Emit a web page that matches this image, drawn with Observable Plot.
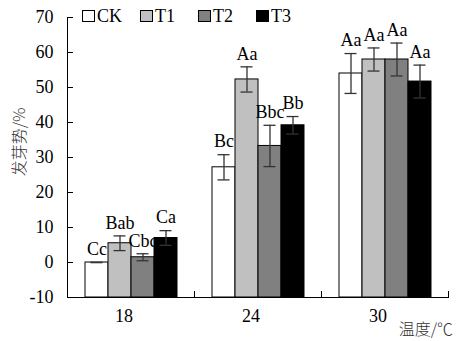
<!DOCTYPE html>
<html>
<head>
<meta charset="utf-8">
<script src="https://cdn.jsdelivr.net/npm/d3@7"></script>
<script src="https://cdn.jsdelivr.net/npm/@observablehq/plot@0.6"></script>
<style>
  body { margin: 0; background: white; }
  #wrap { position: relative; width: 461px; height: 341px; overflow: hidden; font-family: "Liberation Serif", "Times New Roman", Times, "DejaVu Serif", serif; }
  #legend { position: absolute; left: 82px; top: 6px; display: flex; font-size: 18px; line-height: 20px; }
  .item { display: flex; align-items: center; width: 58px; flex: none; }
  .sw { width: 11px; height: 10px; border: 1px solid black; margin-right: 2px; }
  #ylab { position: absolute; left: 18px; top: 142px; transform: translate(-50%, -50%) rotate(-90deg); font-size: 16px; white-space: nowrap; color: #333; font-family: "Noto Sans CJK SC", sans-serif; font-weight: 300; }
  #xlab { position: absolute; right: 8px; top: 316px; font-size: 16px; white-space: nowrap; color: #333; font-family: "Noto Sans CJK SC", sans-serif; font-weight: 300; }
  svg text { font-family: "Liberation Serif", "Times New Roman", Times, "DejaVu Serif", serif; }
</style>
</head>
<body>
<div id="wrap">
  <div id="chart"></div>
  <div id="legend"></div>
  <div id="ylab"></div>
  <div id="xlab"></div>
</div>
<script>
const temps = ["18", "24", "30"];
const series = ["CK", "T1", "T2", "T3"];
const ckMean = [0, 27.2, 54.0];
const t1Mean = [5.5, 52.3, 58.0];
const t2Mean = [1.5, 33.3, 58.0];
const t3Mean = [7.0, 39.2, 51.7];
const ckErr = [0, 3.6, 5.7];
const t1Err = [2.1, 3.6, 3.3];
const t2Err = [1.0, 5.9, 4.7];
const t3Err = [2.1, 2.5, 4.7];
const ckSig = ["Cc", "Bc", "Aa"];
const t1Sig = ["Bab", "Aa", "Aa"];
const t2Sig = ["Cbc", "Bbc", "Aa"];
const t3Sig = ["Ca", "Bb", "Aa"];
const yTicks = [-10, 0, 10, 20, 30, 40, 50, 60, 70];
const fills = ["#ffffff", "#c0c0c0", "#808080", "#000000"];
const yLabel = "发芽势/%";
const xLabel = "温度/℃";

const means = [ckMean, t1Mean, t2Mean, t3Mean];
const errs = [ckErr, t1Err, t2Err, t3Err];
const sigs = [ckSig, t1Sig, t2Sig, t3Sig];
const rows = [];
temps.forEach((t, i) => series.forEach((s, j) => {
  rows.push({temp: t, series: s, mean: means[j][i], err: errs[j][i], sig: sigs[j][i]});
}));

const serif = "'Liberation Serif', 'Times New Roman', Times, 'DejaVu Serif', serif";
const chart = Plot.plot({
  width: 461,
  height: 341,
  marginTop: 17,
  marginBottom: 44,
  marginLeft: 66,
  marginRight: 13,
  style: {fontFamily: serif, fontSize: "18px", background: "white", color: "black", overflow: "visible"},
  fx: {domain: temps, padding: 0, label: null, axis: null},
  x: {domain: series, paddingInner: 0, paddingOuter: 0.76, axis: null},
  y: {domain: [-10, 70], label: null},
  color: {domain: series, range: fills},
  marks: [
    Plot.barY(rows, {fx: "temp", x: "series", y1: -10, y2: "mean", fill: "series", stroke: "black", strokeWidth: 1}),
    Plot.ruleX(rows, {fx: "temp", x: "series", y1: d => d.mean - d.err, y2: d => d.mean + d.err, stroke: "#333", strokeWidth: 1.3}),
    Plot.tickY(rows, {fx: "temp", x: "series", y: d => d.mean - d.err, insetLeft: 5.5, insetRight: 5.5, stroke: "#333", strokeWidth: 1.3}),
    Plot.tickY(rows, {fx: "temp", x: "series", y: d => d.mean + d.err, insetLeft: 5.5, insetRight: 5.5, stroke: "#333", strokeWidth: 1.3}),
    Plot.text(rows, {fx: "temp", x: "series", y: d => d.mean + d.err, text: "sig", dy: -13, fill: "black"}),
    Plot.frame({anchor: "bottom"}),
    Plot.frame({anchor: "left", facetAnchor: "left"}),
    Plot.frame({anchor: "right", insetTop: 274}),
    Plot.axisY({ticks: yTicks, tickSize: -6, tickPadding: 20, tickFormat: d => String(d), label: null}),
    Plot.axisFx({anchor: "bottom", tickSize: 0, tickPadding: 12, dx: -7, label: null})
  ]
});
document.getElementById("chart").appendChild(chart);

const legend = document.getElementById("legend");
series.forEach((s, j) => {
  const item = document.createElement("div");
  item.className = "item";
  const sw = document.createElement("div");
  sw.className = "sw";
  sw.style.background = fills[j];
  const tx = document.createElement("span");
  tx.textContent = s;
  item.appendChild(sw);
  item.appendChild(tx);
  legend.appendChild(item);
});
document.getElementById("ylab").textContent = yLabel;
document.getElementById("xlab").textContent = xLabel;
</script>
</body>
</html>
